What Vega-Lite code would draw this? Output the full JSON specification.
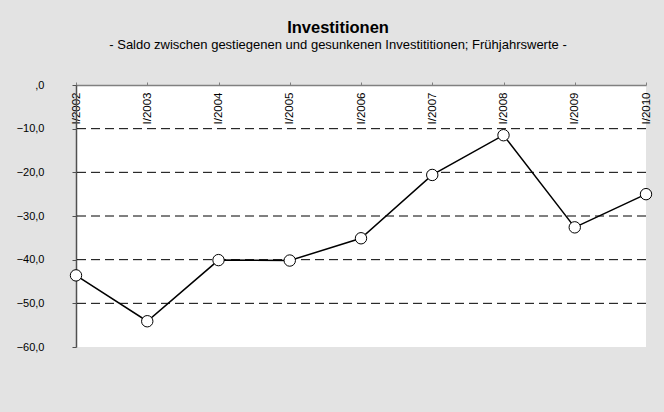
{
  "$schema": "https://vega.github.io/schema/vega-lite/v6.json",
  "width": 570,
  "height": 262,
  "autosize": {"type": "none"},
  "padding": {"left": 76, "top": 85, "right": 18, "bottom": 65},
  "background": "#e3e3e3",
  "title": {
    "text": "Investitionen",
    "subtitle": "- Saldo zwischen gestiegenen und gesunkenen Investititionen; Frühjahrswerte -",
    "anchor": "middle",
    "dx": -23,
    "offset": 27,
    "font": "Liberation Sans",
    "fontSize": 16.5,
    "fontWeight": "bold",
    "color": "#000000",
    "subtitleFont": "Liberation Sans",
    "subtitleFontSize": 13,
    "subtitleColor": "#000000",
    "subtitlePadding": 3
  },
  "config": {
    "view": {"fill": "#ffffff", "stroke": null},
    "font": "Liberation Sans"
  },
  "datasets": {
    "werte": [
      {"periode": "I/2002", "saldo": -43.6},
      {"periode": "I/2003", "saldo": -54.1},
      {"periode": "I/2004", "saldo": -40.1},
      {"periode": "I/2005", "saldo": -40.2},
      {"periode": "I/2006", "saldo": -35.1},
      {"periode": "I/2007", "saldo": -20.6},
      {"periode": "I/2008", "saldo": -11.5},
      {"periode": "I/2009", "saldo": -32.6},
      {"periode": "I/2010", "saldo": -25.0}
    ],
    "gitter": [{"g": -10}, {"g": -20}, {"g": -30}, {"g": -40}, {"g": -50}]
  },
  "layer": [
    {
      "data": {"name": "gitter"},
      "mark": {"type": "rule", "color": "#000000", "strokeWidth": 1, "strokeDash": [9, 5]},
      "encoding": {"y": {"field": "g", "type": "quantitative"}}
    },
    {
      "data": {"name": "werte"},
      "encoding": {
        "x": {
          "field": "periode",
          "type": "ordinal",
          "scale": {"type": "point", "padding": 0},
          "sort": null,
          "axis": {
            "title": null,
            "orient": "top",
            "labelAngle": -90,
            "labelAlign": "right",
            "labelBaseline": "middle",
            "labelPadding": -10,
            "tickSize": 3,
            "tickColor": "#808080",
            "domainColor": "#808080",
            "domainWidth": 1.5,
            "labelFontSize": 11.5,
            "labelColor": "#000000",
            "labelFont": "Liberation Sans",
            "labelBound": false,
            "grid": false
          }
        },
        "y": {
          "field": "saldo",
          "type": "quantitative",
          "scale": {"domain": [-60, 0], "nice": false, "zero": false},
          "axis": {
            "title": null,
            "values": [0, -10, -20, -30, -40, -50, -60],
            "labelExpr": "datum.value == 0 ? ',0' : replace(format(datum.value, '.1f'), '.', ',')",
            "tickSize": 4,
            "tickColor": "#505050",
            "domainColor": "#505050",
            "domainWidth": 1.5,
            "labelPadding": 28,
            "labelFontSize": 11,
            "labelColor": "#000000",
            "labelFont": "Liberation Sans",
            "grid": false
          }
        }
      },
      "layer": [
        {"mark": {"type": "line", "color": "#000000", "strokeWidth": 1.5}},
        {"mark": {"type": "point", "filled": true, "fill": "#ffffff", "stroke": "#000000", "strokeWidth": 1, "size": 130, "opacity": 1}}
      ]
    }
  ]
}
